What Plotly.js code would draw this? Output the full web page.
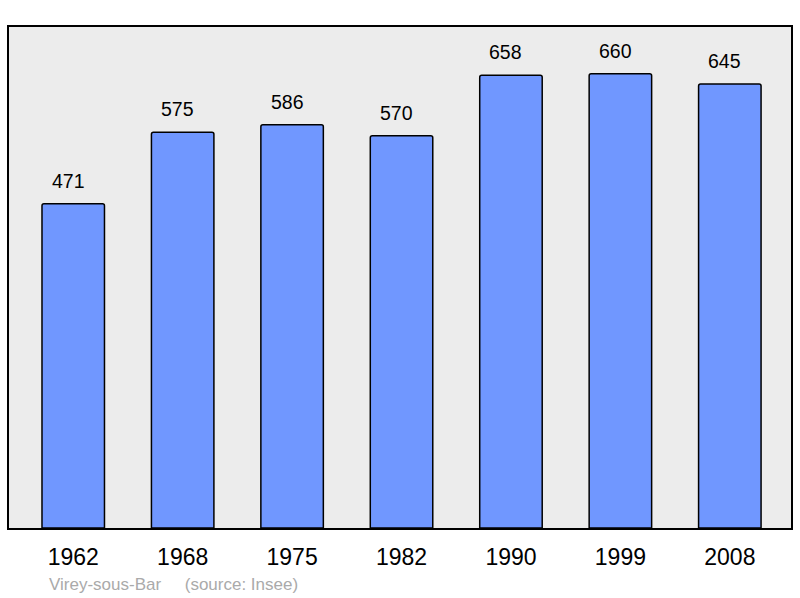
<!DOCTYPE html>
<html>
<head>
<meta charset="utf-8">
<script src="https://cdn.plot.ly/plotly-3.0.1.min.js"></script>
<style>html,body{margin:0;padding:0;background:#fff;}#chart{width:800px;height:598px;}</style>
</head>
<body>
<div id="chart"></div>
<script>
const years = ["1962", "1968", "1975", "1982", "1990", "1999", "2008"];
const population = [471, 575, 586, 570, 658, 660, 645];
const commune = "Virey-sous-Bar";
const source = "(source: Insee)";

const trace = {
  type: "bar",
  x: years,
  y: population,
  width: 0.571,
  marker: {color: "#7097ff", line: {color: "#000", width: 1.5}, cornerradius: 2},
  hoverinfo: "none"
};

const annotations = years.map((yr, i) => ({
  x: i, y: population[i], xref: "x", yref: "y",
  text: String(population[i]), showarrow: false,
  yanchor: "middle", yshift: 23, xshift: -5,
  font: {family: "Liberation Sans, Arial, sans-serif", size: 19.5, color: "#000"}
}));
annotations.push({
  xref: "paper", yref: "paper", x: 38/782, y: -56/501, xanchor: "left", yanchor: "middle",
  text: commune + "&nbsp;&nbsp;&nbsp;&nbsp;&nbsp;" + source, showarrow: false,
  font: {family: "Liberation Sans, Arial, sans-serif", size: 17, color: "#aaaaaa"}
});

const layout = {
  width: 800, height: 598,
  margin: {l: 9, r: 9, t: 27, b: 70},
  paper_bgcolor: "#ffffff",
  plot_bgcolor: "#ececec",
  showlegend: false,
  xaxis: {
    type: "category", range: [-0.587, 6.559],
    showgrid: false, zeroline: false,
    showline: true, mirror: true, linecolor: "#000", linewidth: 2,
    ticks: "outside", ticklen: 7, tickcolor: "rgba(0,0,0,0)",
    tickfont: {family: "Liberation Sans, Arial, sans-serif", size: 23, color: "#000"}
  },
  yaxis: {
    range: [0, 728], showgrid: false, zeroline: false, showticklabels: false,
    showline: true, mirror: true, linecolor: "#000", linewidth: 2, ticks: ""
  },
  annotations: annotations
};

Plotly.newPlot("chart", [trace], layout, {displayModeBar: false, staticPlot: true});
</script>
</body>
</html>
